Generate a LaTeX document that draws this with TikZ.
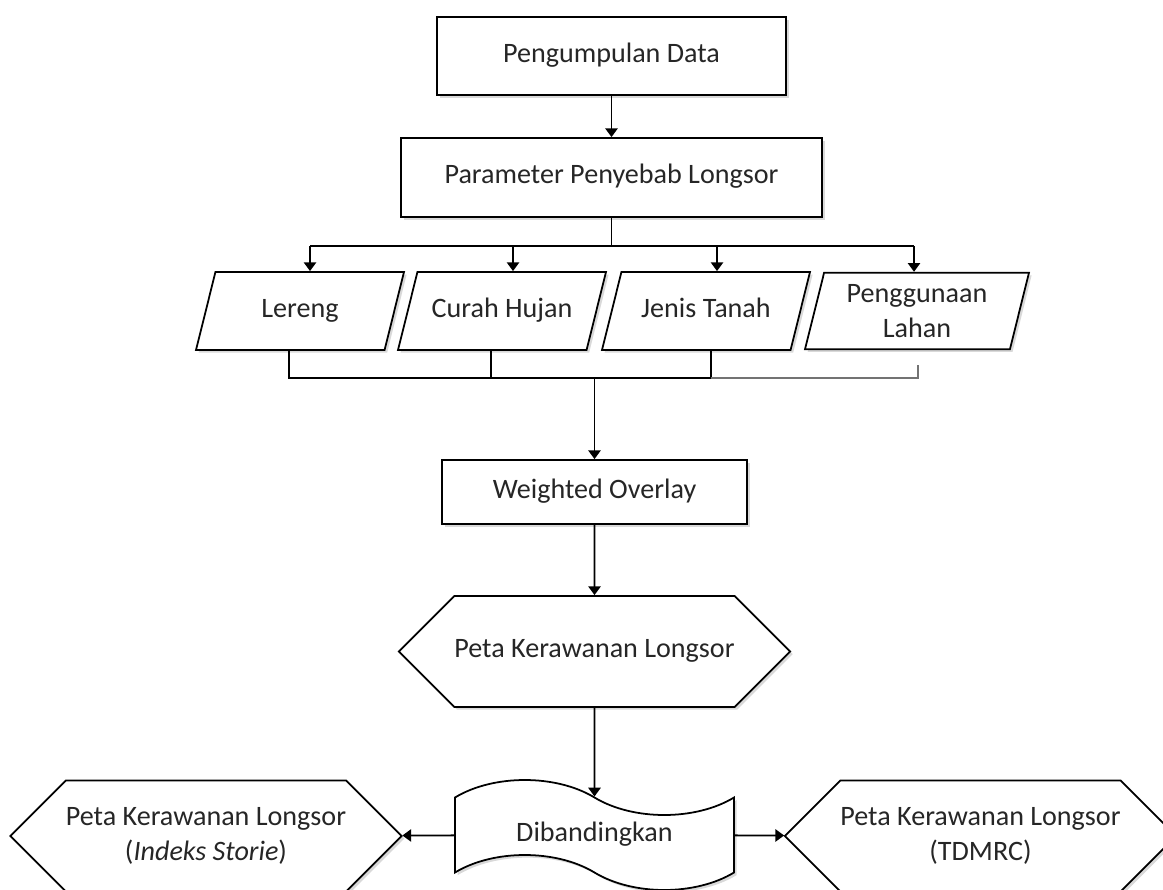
\documentclass[tikz,border=0pt]{standalone}
\usepackage{fontspec}
\setmainfont{Carlito}
\usetikzlibrary{arrows.meta,shapes.geometric,shapes.symbols,shadows,calc}

\begin{document}
\begin{tikzpicture}[x=0.2mm,y=-0.2mm,>={Triangle[width=7pt,length=5pt]},line width=1pt,
  every node/.style={font=\fontsize{16}{20}\selectfont,text=black!85,align=center},
  oneline/.style={text height=11pt,text depth=4pt},
  box/.style={draw,fill=white,drop shadow={shadow xshift=1.5pt,shadow yshift=-1.5pt,opacity=.3}},
  datain/.style={box,trapezium,trapezium left angle=76,trapezium right angle=104,trapezium stretches body,minimum width=41.6mm,inner ysep=14.7pt},
  peta/.style={box,signal,signal to=west and east,signal pointer angle=90,minimum width=76.8mm,minimum height=22.2mm,inner xsep=0pt}]
\useasboundingbox (0,0) rectangle (1163,890);
\node[box,oneline,minimum width=69.8mm,minimum height=15.6mm] (data) at (611.5,56) {Pengumpulan Data};
\node[box,oneline,minimum width=84.2mm,minimum height=15.8mm] (param) at (611.5,177.5) {Parameter Penyebab Longsor};
\node[datain,oneline] (lereng) at (300,311) {Lereng};
\node[datain,oneline] (curah) at (502,311) {Curah Hujan};
\node[datain,oneline] (jenis) at (706,311) {Jenis Tanah};
\node[datain,minimum width=44.8mm,inner ysep=6.6pt] (guna) at (917,311) {Penggunaan\\Lahan};
\node[box,oneline,minimum width=61mm,minimum height=12.8mm] (overlay) at (594.5,492) {Weighted Overlay};
\node[peta,oneline] (peta) at (594.5,651.5) {Peta Kerawanan Longsor};
\node[box,oneline,tape,tape bend top=out and in,tape bend bottom=out and in,tape bend height=7mm,minimum width=55.8mm,minimum height=22mm] (banding) at (594.5,835) {Dibandingkan};
\node[peta] (storie) at (206,836) {Peta Kerawanan Longsor\\(\textit{Indeks Storie})};
\node[peta] (tdmrc) at (980.5,836) {Peta Kerawanan Longsor\\(TDMRC)};
% branch to the four parameters
\coordinate (split) at (611.5,246);
\coordinate (join) at (594.5,378);
\foreach \n/\dx in {lereng/10,curah/11,jenis/11,guna/-3} \coordinate (\n-in) at ($(\n.north)+(\dx,0)$);
\foreach \n/\dx in {lereng/-11,curah/-11,jenis/5} \coordinate (\n-out) at ($(\n.south)+(\dx,0)$);
\coordinate (guna-out) at ($(guna.south)+(1,15)$);
\draw[->] (data) -- (param); \draw (param) -- (split);
\draw (lereng-in |- split) -- (guna-in |- split);
\foreach \n in {lereng,curah,jenis,guna} \draw[->] (\n-in |- split) -- (\n-in);
\draw (lereng-out) |- (jenis-out |- join) -- (jenis-out); \draw (curah-out) -- (curah-out |- join);
\draw[black!55] (jenis-out |- join) -| (guna-out);
\draw[->] (join) -- (overlay); \draw[->] (overlay) -- (peta); \draw[->] (peta) -- (banding);
\draw[->] (banding) -- (storie); \draw[->] (banding) -- (tdmrc);
\end{tikzpicture}
\end{document}
